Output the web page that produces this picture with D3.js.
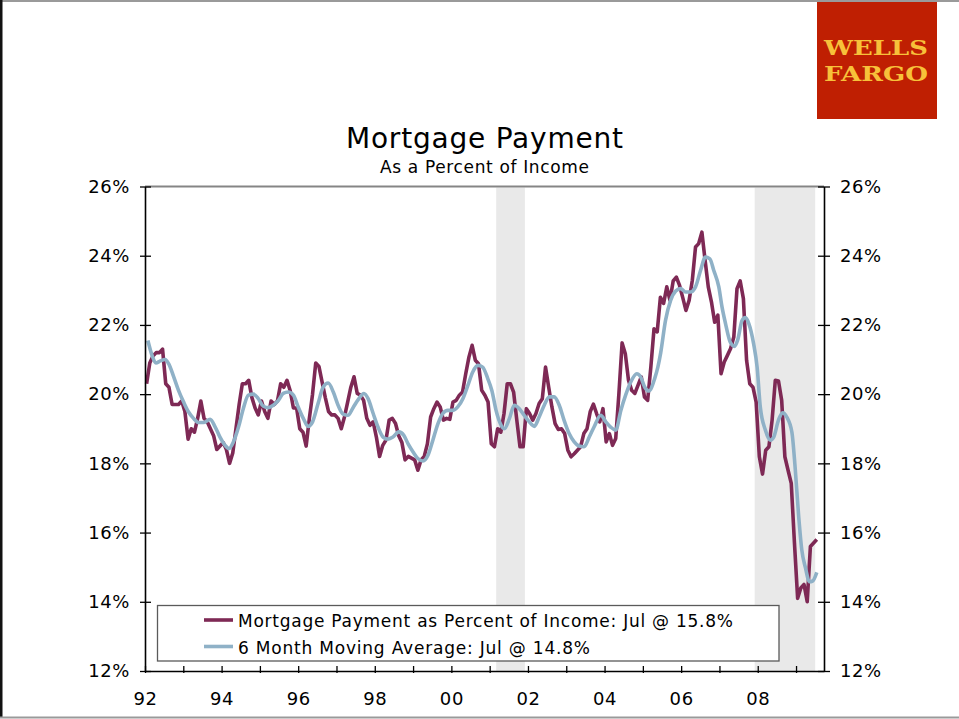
<!DOCTYPE html>
<html>
<head>
<meta charset="utf-8">
<script src="https://cdn.jsdelivr.net/npm/d3@7"></script>
<style>
  body { margin: 0; background: #fff; }
  svg { display: block; }
</style>
</head>
<body>
<svg></svg>
<script>
const width = 959, height = 719;
const margin = { left: 145, right: 135, top: 186.5, bottom: 48 };

// monthly mortgage payment as % of income, Jan 1992 .. Jul 2009
const mortgage = [
  20.3, 20.9, 21.1, 21.2, 21.2, 21.3, 20.3, 20.2, 19.7, 19.7, 19.7, 19.8,
  19.5, 18.7, 19.0, 18.9, 19.3, 19.8, 19.3, 19.2, 19.0, 18.8, 18.4, 18.5,
  18.6, 18.4, 18.0, 18.3, 19.0, 19.7, 20.3, 20.3, 20.4, 19.9, 19.6, 19.4,
  19.8, 19.5, 19.3, 19.8, 19.7, 19.8, 20.3, 20.2, 20.4, 20.1, 19.6, 19.6,
  19.0, 18.9, 18.5, 19.3, 20.0, 20.9, 20.8, 20.35, 19.9, 19.5, 19.4, 19.4,
  19.3, 19.0, 19.34, 19.77, 20.2, 20.5, 20.02, 19.97, 19.82, 19.3, 19.1, 19.2,
  18.76, 18.2, 18.52, 18.67, 19.25, 19.3, 19.15, 18.8, 18.6, 18.1, 18.2, 18.15,
  18.1, 17.8, 18.1, 18.2, 18.57, 19.34, 19.58, 19.77, 19.63, 19.25, 19.3, 19.27,
  19.77, 19.82, 19.97, 20.06, 20.59, 21.07, 21.41, 20.98, 20.88, 20.11, 19.97, 19.77,
  18.57, 18.48, 19.0, 18.9, 19.44, 20.3, 20.3, 20.06, 19.25, 18.48, 18.48, 19.58,
  19.44, 19.25, 19.44, 19.73, 19.87, 20.78, 20.2, 19.63, 19.15, 18.98, 19.0, 18.86,
  18.38, 18.19, 18.28, 18.38, 18.48, 18.86, 19.0, 19.49, 19.71, 19.44, 19.2, 19.58,
  18.62, 18.86, 18.52, 18.72, 20.02, 21.48, 21.17, 20.4, 20.11, 20.02, 20.26, 20.5,
  19.92, 19.82, 20.78, 21.89, 21.8, 22.8, 22.62, 23.1, 22.71, 23.27, 23.38, 23.14,
  22.79, 22.42, 22.71, 23.29, 24.25, 24.35, 24.68, 23.87, 23.1, 22.66, 22.08, 22.28,
  20.59, 20.93, 21.12, 21.32, 21.65, 23.05, 23.27, 22.76, 20.98, 20.3, 20.2, 19.77,
  18.19, 17.69, 18.38, 18.48, 19.25, 20.4, 20.38, 19.82, 18.19, 17.8, 17.42, 15.7,
  14.1, 14.4, 14.5, 14.0, 15.6, 15.7, 15.8
];

// 6 month moving average (months since Jan 1992)
const maMonths = [
  0.5, 1.8, 3.0, 4.4, 5.9, 7.0, 8.6, 10.1, 11.7, 13.2, 14.8, 16.4, 17.9, 20.0, 21.6, 23.1,
  24.7, 25.9, 27.3, 28.9, 30.4, 32.0, 33.6, 35.1, 36.7, 38.3, 39.8, 41.4, 42.9, 44.5, 46.1,
  47.6, 49.2, 50.7, 52.1, 53.9, 55.4, 57.0, 58.6, 60.1, 61.7, 63.2, 64.8, 66.4, 68.2, 69.5,
  71.1, 72.6, 74.2, 75.7, 77.3, 79.1, 80.7, 82.0, 83.6, 85.1, 86.7, 88.3, 89.8, 91.4, 92.9,
  94.5, 96.1, 97.6, 99.2, 100.8, 102.3, 103.9, 105.4, 107.0, 108.3, 109.6, 111.2, 112.2,
  113.8, 115.3, 116.9, 118.4, 120.0, 121.6, 123.1, 124.7, 126.3, 127.8, 129.4, 130.9, 132.5,
  134.1, 135.6, 137.2, 138.8, 140.3, 142.4, 144.0, 145.5, 147.1, 148.7, 150.2, 151.8, 153.7,
  154.9, 156.2, 157.5, 159.3, 160.3, 161.2, 162.7, 164.3, 165.9, 167.4, 169.0, 170.5, 172.1,
  173.7, 175.2, 176.6, 177.8, 179.4, 180.4, 181.5, 183.0, 184.3, 185.3, 186.7, 187.7, 188.8,
  190.3, 191.4, 192.4, 194.0, 195.5, 196.6, 198.1, 199.4, 200.7, 202.3, 203.3, 204.4, 205.4,
  206.5, 207.8, 208.8, 210.1
];
const maValues = [
  21.55, 21.12, 20.9, 20.96, 21.0, 20.88, 20.5, 20.11, 19.77, 19.49, 19.3, 19.18, 19.18, 19.27, 19.05, 18.76,
  18.52, 18.43, 18.62, 19.05, 19.58, 19.97, 20.0, 19.87, 19.65, 19.61, 19.68, 19.82, 20.02, 20.06, 19.97,
  19.63, 19.3, 19.07, 19.2, 19.75, 20.2, 20.32, 20.06, 19.68, 19.42, 19.39, 19.61, 19.84, 20.02, 19.87,
  19.44, 19.05, 18.76, 18.7, 18.76, 18.91, 18.81, 18.57, 18.33, 18.14, 18.07, 18.24, 18.67, 19.15, 19.44,
  19.53, 19.53, 19.63, 19.87, 20.26, 20.64, 20.83, 20.78, 20.45, 20.1, 19.53, 19.1, 19.0,
  19.3, 19.68, 19.58, 19.39, 19.2, 19.07, 19.34, 19.68, 19.92, 19.92, 19.68, 19.25, 18.86,
  18.62, 18.5, 18.48, 18.76, 19.05, 19.39, 19.2, 19.05, 18.96, 19.53, 19.97, 20.35, 20.59,
  20.5, 20.2, 20.09, 20.45, 20.78, 21.2, 22.13, 22.71, 22.98, 23.05, 22.95, 22.95, 23.1,
  23.58, 23.96, 23.91, 23.58, 23.1, 22.52, 22.04, 21.5, 21.38, 21.56, 22.13, 22.21, 22.04,
  21.46, 20.78, 19.63, 18.96, 18.67, 18.76, 19.25, 19.46, 19.34, 18.9, 17.9, 16.5, 15.5,
  15.0, 14.58, 14.6, 14.85
];

// recessions (decimal years)
const recStart = [2001.17, 2007.92];
const recEnd = [2001.92, 2009.5];

const yTicks = [12, 14, 16, 18, 20, 22, 24, 26];
const xTicks = d3.range(1992, 2010);

const legendLabels = [
  "Mortgage Payment as Percent of Income: Jul @ 15.8%",
  "6 Month Moving Average: Jul @ 14.8%"
];
const red = "#7e2955", blue = "#8fb1c7";
const font = "DejaVu Sans, Verdana, sans-serif";

const svg = d3.select("svg").attr("width", width).attr("height", height);

const x = d3.scaleLinear().domain([1992, 2009.73]).range([margin.left, width - margin.right]);
const y = d3.scaleLinear().domain([12, 26]).range([height - margin.bottom, margin.top]);

// slide frame
svg.append("rect").attr("width", width).attr("height", height).attr("fill", "#fff");
svg.append("line").attr("x1", 0).attr("x2", width).attr("y1", 1).attr("y2", 1)
  .attr("stroke", "#9a9a9a").attr("stroke-width", 2);
svg.append("line").attr("x1", 1).attr("x2", 1).attr("y1", 0).attr("y2", height - 2)
  .attr("stroke", "#111").attr("stroke-width", 3);
svg.append("line").attr("x1", 0).attr("x2", width).attr("y1", 717.5).attr("y2", 717.5)
  .attr("stroke", "#9a9a9a").attr("stroke-width", 2);

// logo
svg.append("rect").attr("x", 817).attr("y", 2).attr("width", 120).attr("height", 117)
  .attr("fill", "#bf1f02");
["WELLS", "FARGO"].forEach((t, i) => {
  svg.append("text")
    .attr("x", 824).attr("y", 55 + i * 26)
    .attr("textLength", 104).attr("lengthAdjust", "spacingAndGlyphs")
    .style("font-family", "DejaVu Serif, serif").style("font-weight", "bold")
    .style("font-size", "21px").attr("fill", "#f7c13a")
    .text(t);
});

// titles
const cx = (margin.left + width - margin.right) / 2;
svg.append("text").attr("x", cx).attr("y", 148).attr("text-anchor", "middle")
  .attr("textLength", 277).attr("lengthAdjust", "spacing")
  .style("font-family", font).style("font-size", "28px").text("Mortgage Payment");
svg.append("text").attr("x", cx).attr("y", 173).attr("text-anchor", "middle")
  .attr("textLength", 209).attr("lengthAdjust", "spacing")
  .style("font-family", font).style("font-size", "17px").text("As a Percent of Income");

// recession shading
svg.selectAll(".rec").data(recStart).join("rect")
  .attr("class", "rec")
  .attr("x", d => x(d))
  .attr("width", (d, i) => x(recEnd[i]) - x(d))
  .attr("y", y(26) + 1)
  .attr("height", y(12) - y(26) - 1)
  .attr("fill", "#e9e9e9");

// top border of plot
svg.append("line").attr("x1", x.range()[0]).attr("x2", x.range()[1])
  .attr("y1", y(26)).attr("y2", y(26))
  .attr("stroke", "#858585").attr("stroke-width", 2);

// lines
const mortLine = d3.line()
  .x((d, i) => x(1992 + (i + 0.5) / 12))
  .y(d => y(d));
svg.append("path").attr("d", mortLine(mortgage))
  .attr("fill", "none").attr("stroke", red).attr("stroke-width", 3.6)
  .attr("stroke-linejoin", "round");

const maLine = d3.line()
  .x(d => x(1992 + (d[0] + 0.4) / 12))
  .y(d => y(d[1]))
  .curve(d3.curveMonotoneX);
svg.append("path").attr("d", maLine(maMonths.map((m, i) => [m, maValues[i]])))
  .attr("fill", "none").attr("stroke", blue).attr("stroke-width", 3.6)
  .attr("stroke-linejoin", "round");

// axes
const pct = d => d + "%";
const yl = svg.append("g").attr("transform", `translate(${margin.left},0)`)
  .call(d3.axisLeft(y).tickValues(yTicks).tickFormat(pct).tickSize(5).tickPadding(10).tickSizeOuter(0));
yl.selectAll(".tick line").attr("x1", 6).attr("x2", -5);

const yr = svg.append("g").attr("transform", `translate(${width - margin.right},0)`)
  .call(d3.axisRight(y).tickValues(yTicks).tickFormat(pct).tickSize(5).tickPadding(11).tickSizeOuter(0));
yr.selectAll(".tick line").attr("x1", -6).attr("x2", 6);

const xa = svg.append("g").attr("transform", `translate(0,${height - margin.bottom})`)
  .call(d3.axisBottom(x).tickValues(xTicks)
    .tickFormat(d => d % 2 === 0 ? String(d).slice(2) : "")
    .tickSize(2).tickPadding(19).tickSizeOuter(0));
xa.selectAll(".tick line").attr("y1", -5).attr("y2", 2);

svg.selectAll(".domain").attr("stroke", "#000").attr("stroke-width", 1.6);
svg.selectAll(".tick line").attr("stroke", "#000").attr("stroke-width", 1.3);
svg.selectAll(".tick text").style("font-family", font).style("font-size", "18px")
  .attr("fill", "#000").attr("letter-spacing", "0.6px");

// legend
const lg = svg.append("g");
lg.append("rect").attr("x", 157.5).attr("y", 605.5).attr("width", 621.5).attr("height", 55.5)
  .attr("fill", "#fff").attr("stroke", "#5a5a5a").attr("stroke-width", 1.3);
const legendWidths = [495, 352];
legendLabels.forEach((t, i) => {
  const ly = 620 + i * 26.5;
  lg.append("line").attr("x1", 204).attr("x2", 233).attr("y1", ly).attr("y2", ly)
    .attr("stroke", i === 0 ? red : blue).attr("stroke-width", 3.6);
  lg.append("text").attr("x", 238).attr("y", ly + 7.3)
    .attr("textLength", legendWidths[i]).attr("lengthAdjust", "spacing")
    .style("font-family", font).style("font-size", "17px").text(t);
});
</script>
</body>
</html>
